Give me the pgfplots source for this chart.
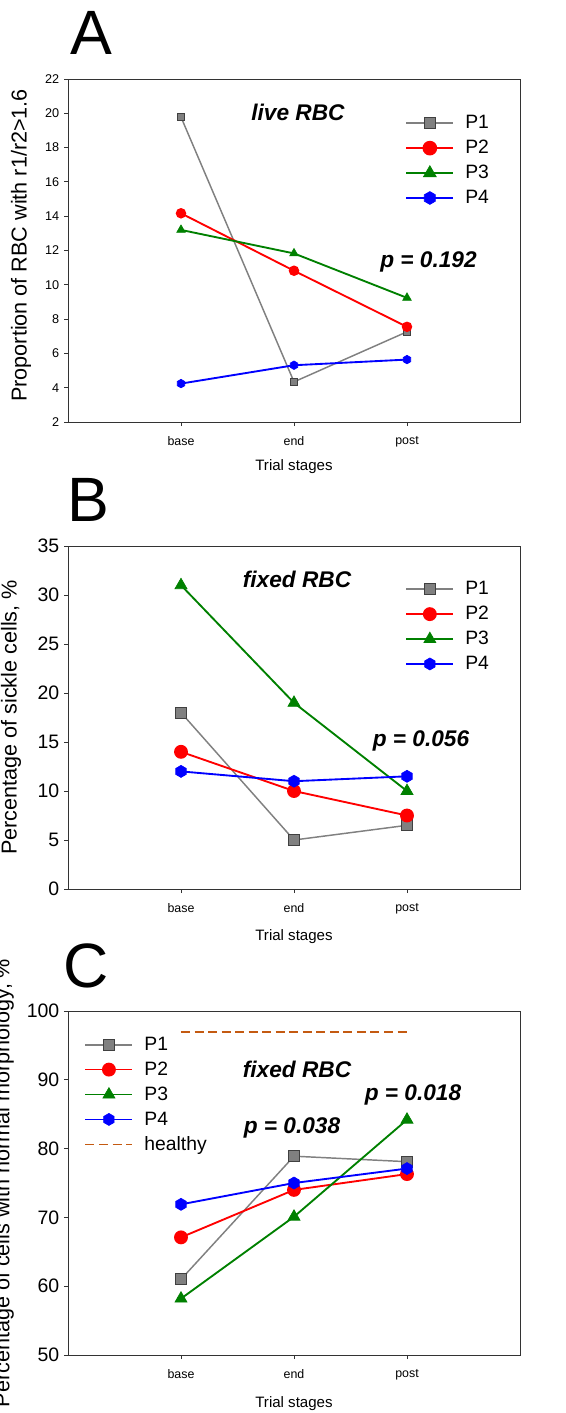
\documentclass[border=0pt]{standalone}
\usepackage{fontspec}
\setmainfont{Liberation Sans}
\usepackage{pgfplots}
\pgfplotsset{compat=1.18}
\usetikzlibrary{plotmarks}

\definecolor{pgray}{RGB}{128,128,128}
\definecolor{pred}{RGB}{255,0,0}
\definecolor{pgreen}{RGB}{0,128,0}
\definecolor{pblue}{RGB}{0,0,255}
\definecolor{healthy}{RGB}{196,90,17}

\pgfdeclareplotmark{hexagon*}{%
  \pgfpathmoveto{\pgfqpointpolar{90}{\pgfplotmarksize}}%
  \pgfpathlineto{\pgfqpointpolar{150}{\pgfplotmarksize}}%
  \pgfpathlineto{\pgfqpointpolar{210}{\pgfplotmarksize}}%
  \pgfpathlineto{\pgfqpointpolar{270}{\pgfplotmarksize}}%
  \pgfpathlineto{\pgfqpointpolar{330}{\pgfplotmarksize}}%
  \pgfpathlineto{\pgfqpointpolar{30}{\pgfplotmarksize}}%
  \pgfpathclose
  \pgfusepathqfillstroke}

\newcommand{\fs}[1]{\fontsize{#1}{#1}\selectfont}

\tikzset{bold note/.style={font=\fs{17}\bfseries\itshape, anchor=base}}

\pgfplotsset{
  panel/.style={
    scale only axis, width=339pt,
    anchor=south west,
    xmin=0, xmax=4,
    xtick={1,2,3}, xticklabels={base,end,post},
    xtick pos=bottom, ytick pos=left,
    tick align=outside, major tick length=3pt,
    axis line style={black!80, line width=0.7pt},
    tick style={black!80, line width=0.7pt},
    /pgf/number format/assume math mode=true,
    xticklabel style={font=\fs{9.3}, yshift=-4pt},
    xlabel={Trial stages},
    xlabel style={font=\fs{11.3}},
    ylabel style={font=\fs{16.2}, anchor=center},
    legend cell align=left,
    legend image code/.code={%
      \draw[##1, mark=none, line width=1.3pt] (0pt,0pt) -- (35.25pt,0pt);
      \draw[mark repeat=2,mark phase=2,##1, draw opacity=0] plot coordinates {(0pt,0pt) (17.6pt,0pt) (35.25pt,0pt)};},
    legend style={draw=none, fill=none, font=\fs{14.5}, anchor=north west,
      inner sep=0pt, row sep=7.1pt, nodes={inner sep=0pt},
      /tikz/every odd column/.append style={column sep=8.25pt}},
    clip=false,
  },
  s1/.style={color=pgray, draw=pgray, line width=1.1pt, mark=square*, mark options={fill=pgray, draw=black!75, draw opacity=1, line width=0.6pt}},
  s2/.style={color=pred, draw=pred, line width=1.4pt, mark=*, mark options={fill=pred, draw=pred, draw opacity=1}},
  s3/.style={color=pgreen, draw=pgreen, line width=1.4pt, mark=triangle*, mark options={fill=pgreen, draw=pgreen, draw opacity=1, line width=0.5pt}},
  s4/.style={color=pblue, draw=pblue, line width=1.4pt, mark=hexagon*, mark options={fill=pblue, draw=pblue, draw opacity=1, line width=0.5pt}},
}

\begin{document}
\begin{tikzpicture}

% panel A
\node[font=\fs{47}] at (68.25pt,-24.4pt) {A};
\begin{axis}[panel,
  at={(51pt,-316.5pt)}, height=257.25pt,
  ymin=2, ymax=22, ytick={2,4,...,22},
  yticklabel style={font=\fs{9.5}},
  ylabel={Proportion of RBC with r1/r2>1.6},
  ylabel style={at={(axis description cs:-0.104,0.515)}},
  xlabel style={at={(axis description cs:0.5,-0.131)}, anchor=center},
  legend style={at={(axis description cs:0.746,0.894)}},
  legend image post style={every mark/.append style={scale=1.5}},
]
\addplot[s1, mark size=2.8pt] coordinates {(1,19.78) (2,4.34) (3,7.26)};
\addplot[s2, mark size=3.2pt] coordinates {(1,14.17) (2,10.82) (3,7.55)};
\addplot[s3, mark size=3.7pt] coordinates {(1,13.2) (2,11.83) (3,9.24)};
\addplot[s4, mark size=3.2pt] coordinates {(1,4.24) (2,5.31) (3,5.64)};
\legend{P1,P2,P3,P4}
\node[bold note] at (axis cs:2.035,19.57) {live RBC};
\node[bold note] at (axis cs:3.19,10.98) {p = 0.192};
\end{axis}

% panel B
\node[font=\fs{47}] at (66pt,-375pt) {B};
\begin{axis}[panel,
  at={(51pt,-666.75pt)}, height=257.25pt,
  ymin=0, ymax=35, ytick={0,5,...,35},
  yticklabel style={font=\fs{14.6}},
  ylabel={Percentage of sickle cells, \%},
  ylabel style={at={(axis description cs:-0.126,0.5)}},
  xlabel style={at={(axis description cs:0.5,-0.14)}, anchor=center},
  legend style={at={(axis description cs:0.746,0.897)}},
]
\addplot[s1, mark size=4.1pt] coordinates {(1,18.0) (2,5.0) (3,6.5)};
\addplot[s2, mark size=4.5pt] coordinates {(1,14.0) (2,10.0) (3,7.5)};
\addplot[s3, mark size=5.2pt] coordinates {(1,31.0) (2,19.0) (3,10.0)};
\addplot[s4, mark size=4.5pt] coordinates {(1,12.0) (2,11.0) (3,11.5)};
\legend{P1,P2,P3,P4}
\node[bold note] at (axis cs:2.027,30.75) {fixed RBC};
\node[bold note] at (axis cs:3.124,14.52) {p = 0.056};
\end{axis}

% panel C
\node[font=\fs{47}] at (64.5pt,-724.5pt) {C};
\begin{axis}[panel,
  at={(51pt,-1016.25pt)}, height=258pt,
  ymin=50, ymax=100, ytick={50,60,...,100},
  yticklabel style={font=\fs{14.6}},
  ylabel={Percentage of cells with normal morphology, \%},
  ylabel style={at={(axis description cs:-0.142,0.5)}},
  xlabel style={at={(axis description cs:0.5,-0.14)}, anchor=center},
  legend style={at={(axis description cs:0.036,0.925)}},
]
\addplot[s1, mark size=4.1pt] coordinates {(1,61.0) (2,78.9) (3,78.1)};
\addplot[s2, mark size=4.5pt] coordinates {(1,67.1) (2,74.0) (3,76.3)};
\addplot[s3, mark size=5.2pt] coordinates {(1,58.2) (2,70.1) (3,84.2)};
\addplot[s4, mark size=4.5pt] coordinates {(1,71.9) (2,75.0) (3,77.1)};
\addplot[color=healthy, line width=1.4pt, dash pattern=on 6.75pt off 3.4pt, no marks] coordinates {(1,97) (3,97)};
\legend{P1,P2,P3,P4,healthy}
\node[bold note] at (axis cs:2.027,90.37) {fixed RBC};
\node[bold note] at (axis cs:1.982,82.2) {p = 0.038};
\node[bold note] at (axis cs:3.053,87.06) {p = 0.018};
\end{axis}

\pgfresetboundingbox
\path (0pt,0pt) rectangle (424.5pt,-1059.75pt);
\end{tikzpicture}
\end{document}
